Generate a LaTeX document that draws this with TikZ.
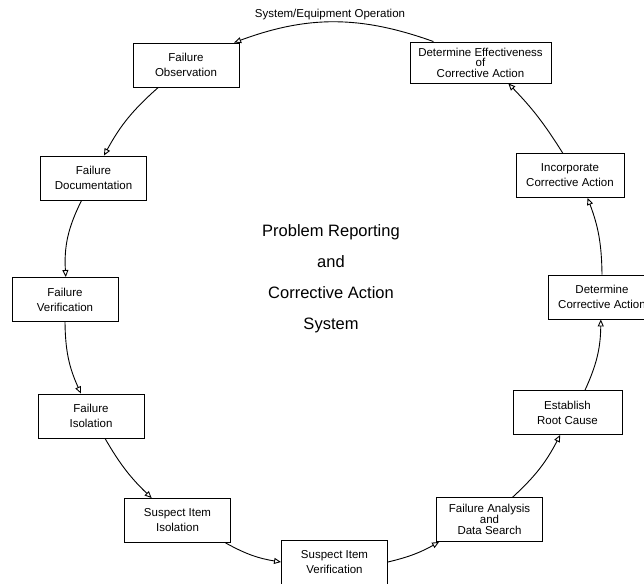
\documentclass[tikz,border=0pt]{standalone}
\usepackage{fontspec}
\setmainfont{Liberation Sans}
\usetikzlibrary{arrows.meta}
\tikzset{
  stage/.style={draw, line width=0.9pt, minimum width=106pt, minimum height=44pt, inner sep=2pt, align=center, font=\fontsize{11.5}{15}\selectfont},
  flow/.style={line width=0.9pt, -{Triangle[open,length=7pt,width=6pt]}}
}
\begin{document}
\begin{tikzpicture}[x=1pt,y=-1pt]
\useasboundingbox (0,0) rectangle (644,583);
\node[font=\fontsize{11.5}{13}\selectfont] (title) at (330,15) {System/Equipment Operation};
\node[stage] (obs) at (186,65) {Failure\\Observation};
\node[stage] (doc) at (93.5,178) {Failure\\Documentation};
\node[stage] (ver) at (65,299.5) {Failure\\Verification};
\node[stage] (iso) at (91,416) {Failure\\Isolation};
\node[stage] (siso) at (177.5,520.5) {Suspect Item\\Isolation};
\node[stage] (sver) at (334.5,562) {Suspect Item\\Verification};
\node[stage, font=\fontsize{11.5}{11}\selectfont] (fa) at (489.5,519.5) {Failure Analysis\\and\\Data Search};
\node[stage, minimum width=109pt] (root) at (567.5,412.5) {Establish\\Root Cause};
\node[stage, minimum width=108pt] (detca) at (602,297) {Determine\\Corrective Action};
\node[stage, minimum width=108pt] (inc) at (570,175.5) {Incorporate\\Corrective Action};
\node[stage, minimum width=141pt, minimum height=41pt, font=\fontsize{11.5}{10.5}\selectfont] (deteff) at (480.5,62.5) {Determine Effectiveness\\of\\Corrective Action};
\node[align=center, font=\fontsize{16.5}{31}\selectfont] (prac) at (331,279) {Problem Reporting\\and\\Corrective Action\\System};
\draw[flow] (deteff.156) to[bend right=20] (obs.25);
\draw[flow] (obs.219) to[bend right=10] (doc.65);
\draw[flow] (doc.242) to[bend right=15] (ver.88);
\draw[flow] (ver.270) to[bend right=12] (iso.114);
\draw[flow] (iso.302) to[bend right=8] (siso.139);
\draw[flow] (siso.335) to[bend right=10] (sver.west);
\draw[flow] (sver.east) to[bend right=8] (fa.204);
\draw[flow] (fa.44) to[bend right=10] (root.252);
\draw[flow] (root.52) to[bend right=12] (detca.267);
\draw[flow] (detca.90) to[bend right=10] (inc.308);
\draw[flow] (inc.108) to[bend right=6] (deteff.323);
\end{tikzpicture}
\end{document}
